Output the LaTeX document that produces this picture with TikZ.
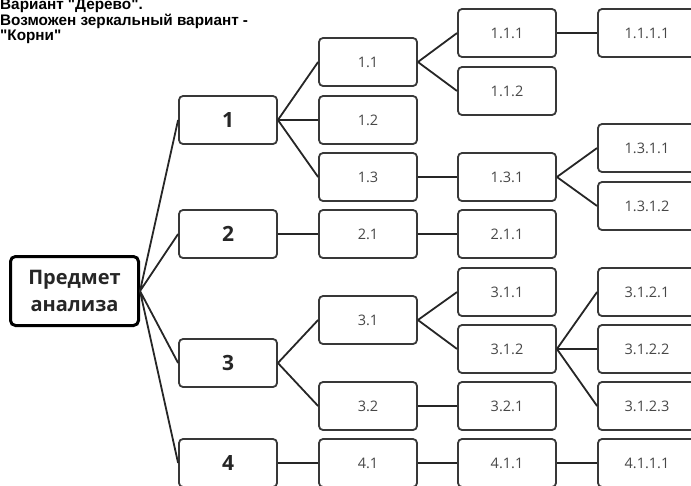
\documentclass[tikz,border=0pt]{standalone}
\usepackage{fontspec}
\setmainfont{Open Sans}
\newfontfamily\notefont{Liberation Sans}
\definecolor{boxgray}{HTML}{383838}
\definecolor{linkgray}{HTML}{262626}

\begin{document}
\begin{tikzpicture}[
  x=1pt, y=-1pt,
  rootbox/.style={draw=black, line width=3pt, rounded corners=5pt, fill=white, minimum width=128pt, minimum height=69pt, align=center, font=\bfseries\fontsize{20}{27}\selectfont, text=black!85},
  topbox/.style={draw=boxgray, line width=1.8pt, rounded corners=4pt, fill=white, minimum width=98pt, minimum height=48pt, font=\bfseries\fontsize{21}{24}\selectfont, text=black!85},
  cell/.style={topbox, font=\fontsize{14.5}{18}\selectfont, text=black!72},
  note/.style={font=\notefont\bfseries\fontsize{15.3}{15.8}\selectfont, align=left, inner sep=0pt},
  link/.style={line width=1.8pt, draw=linkgray}
]
  \useasboundingbox (0,0) rectangle (691,485);
  \clip (0,0) rectangle (691,485);

  % note in the corner
  \node[note, anchor=north west] (note) at (0,-1.5) {Вариант "Дерево".\\Возможен зеркальный вариант -\\"Корни"};

  % root
  \node[rootbox] (root) at (74.5,291) {Предмет\\анализа};

  % first level
  \node[topbox] (n1) at (228,120) {1};
  \node[topbox] (n2) at (228,234) {2};
  \node[topbox] (n3) at (228,363) {3};
  \node[topbox] (n4) at (228,463) {4};

  % second level
  \node[cell] (n11) at (368,62) {1.1};
  \node[cell] (n12) at (368,120) {1.2};
  \node[cell] (n13) at (368,177) {1.3};
  \node[cell] (n21) at (368,234) {2.1};
  \node[cell] (n31) at (368,320) {3.1};
  \node[cell] (n32) at (368,406) {3.2};
  \node[cell] (n41) at (368,463) {4.1};

  % third level
  \node[cell] (n111) at (507,33) {1.1.1};
  \node[cell] (n112) at (507,91) {1.1.2};
  \node[cell] (n131) at (507,177) {1.3.1};
  \node[cell] (n211) at (507,234) {2.1.1};
  \node[cell] (n311) at (507,292) {3.1.1};
  \node[cell] (n312) at (507,349) {3.1.2};
  \node[cell] (n321) at (507,406) {3.2.1};
  \node[cell] (n411) at (507,463) {4.1.1};

  % fourth level (cut by the right edge)
  \node[cell] (n1111) at (647,33) {1.1.1.1};
  \node[cell] (n1311) at (647,148) {1.3.1.1};
  \node[cell] (n1312) at (647,206) {1.3.1.2};
  \node[cell] (n3121) at (647,292) {3.1.2.1};
  \node[cell] (n3122) at (647,349) {3.1.2.2};
  \node[cell] (n3123) at (647,406) {3.1.2.3};
  \node[cell] (n4111) at (647,463) {4.1.1.1};

  % branches
  \draw[link] (root.east) -- (n1.west) (root.east) -- (n2.west)
              (root.east) -- (n3.west) (root.east) -- (n4.west);
  \draw[link] (n1.east) -- (n11.west) (n1.east) -- (n12.west) (n1.east) -- (n13.west);
  \draw[link] (n2.east) -- (n21.west);
  \draw[link] (n3.east) -- (n31.west) (n3.east) -- (n32.west);
  \draw[link] (n4.east) -- (n41.west);
  \draw[link] (n11.east) -- (n111.west) (n11.east) -- (n112.west);
  \draw[link] (n13.east) -- (n131.west);
  \draw[link] (n21.east) -- (n211.west);
  \draw[link] (n31.east) -- (n311.west) (n31.east) -- (n312.west);
  \draw[link] (n32.east) -- (n321.west);
  \draw[link] (n41.east) -- (n411.west);
  \draw[link] (n111.east) -- (n1111.west);
  \draw[link] (n131.east) -- (n1311.west) (n131.east) -- (n1312.west);
  \draw[link] (n312.east) -- (n3121.west) (n312.east) -- (n3122.west) (n312.east) -- (n3123.west);
  \draw[link] (n411.east) -- (n4111.west);
\end{tikzpicture}
\end{document}
